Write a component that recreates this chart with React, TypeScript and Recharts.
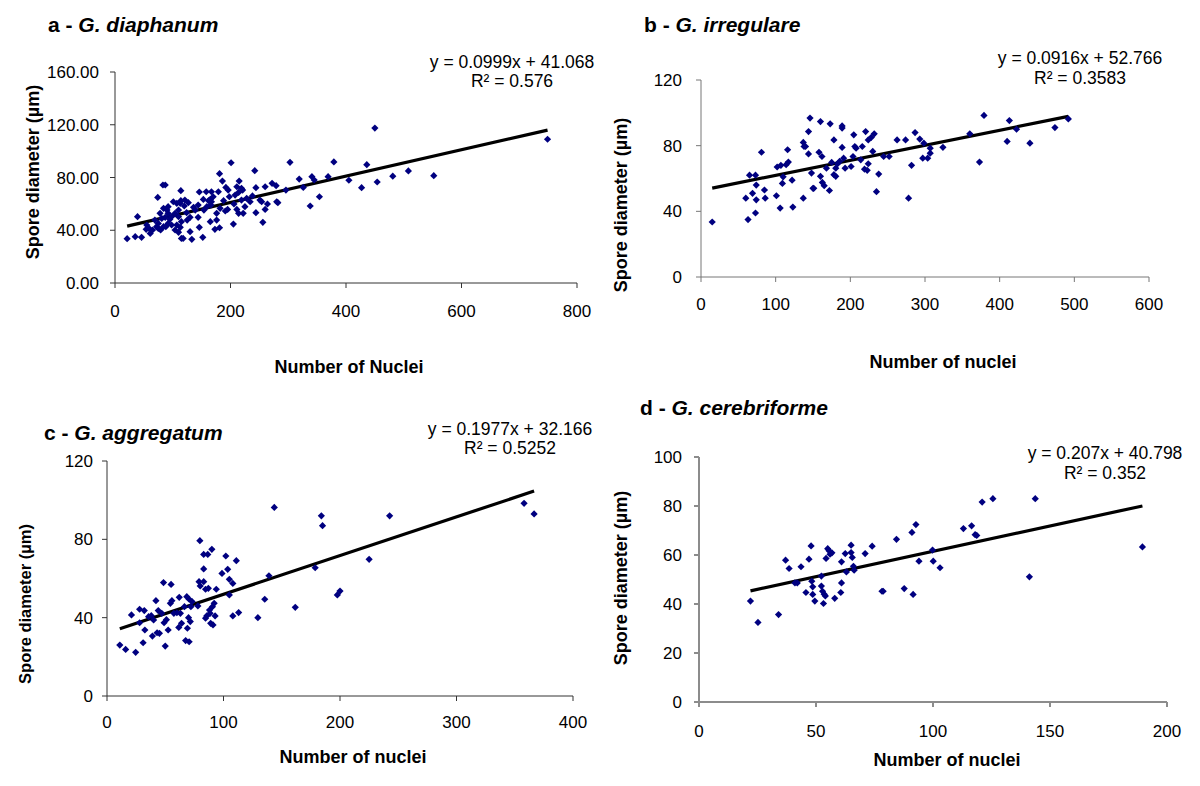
import React from "react";
import { ScatterChart, Scatter, XAxis, YAxis, ReferenceLine } from "recharts";

// a - G. diaphanum : [nuclei, spore diameter]
const diaphanumPoints: [number, number][] = [
  [21, 33.6], [35, 35.1], [39, 50.3], [46, 34.6], [54, 40.7], [61, 37.6], [74, 64.9],
  [83, 74.3], [87, 74.3], [114, 70], [146, 69], [158, 69.2], [167, 69.2], [179, 69.2],
  [181, 82.9], [186, 77.3], [201, 91.2], [192, 72.5], [196, 70.5], [215, 77.3], [214, 68.7],
  [221, 70.5], [242, 85.2], [244, 72.3], [260, 73], [272, 75.6], [279, 73.8], [296, 70.5],
  [303, 91.5], [319, 78.8], [326, 72.5], [341, 80.6], [345, 78.1], [354, 65.4], [338, 58.4],
  [369, 80.6], [115, 33.8], [118, 33.8], [133, 33.1], [152, 34.6], [130, 38.9], [110, 38.4],
  [104, 40.2], [146, 42.2], [165, 46.5], [173, 40.7], [181, 41.9], [205, 44.7], [256, 46],
  [244, 53.3], [214, 52.8], [222, 52.8], [225, 57.9], [191, 54.6], [176, 52.8], [144, 49.8],
  [125, 47.7], [260, 55.8], [264, 59.9], [280, 61.6], [282, 60.9], [234, 61.6], [251, 62.9],
  [254, 61.6], [153, 63.4], [162, 62.4], [167, 61.6], [159, 57.9], [188, 62.4], [144, 59.1],
  [136, 57.4], [127, 60.9], [120, 58.4], [113, 60.4], [110, 55.3], [104, 52.8], [98, 50.3],
  [92, 52.8], [90, 55.3], [87, 49.8], [81, 49], [75, 45.2], [75, 41.4], [79, 40.2],
  [84, 42.7], [92, 45.2], [98, 44], [107, 44], [113, 42.2], [115, 46.5], [124, 53.3],
  [130, 49.8], [139, 55.3], [65, 40.2], [59, 41.4], [55, 44], [69, 47.7], [78, 52.8],
  [84, 56.6], [92, 57.9], [101, 61.6], [107, 60.4], [114, 62.4], [121, 62.9], [110, 50.3],
  [95, 48.3], [88, 42.7], [72, 42.7], [182, 56.6], [195, 55.8], [206, 59.9], [211, 55.8],
  [176, 47.7], [166, 59.1], [154, 55.3], [198, 65.4], [208, 66.7], [219, 62.9], [228, 64.2],
  [238, 66], [211, 73], [219, 71.8], [170, 65.4], [165, 63.4], [379, 91.8], [405, 77.9],
  [427, 72.3], [436, 89.7], [450, 117.5], [454, 76.6], [481, 81], [508, 85], [552, 81.4],
  [749, 109],
];

// b - G. irregulare
const irregularePoints: [number, number][] = [
  [15, 33.5], [60, 48], [63, 35], [65, 62], [69, 51], [73, 62], [73, 39], [74, 56], [74, 47],
  [81, 76], [85, 53], [86, 48], [101, 49.5], [102, 67], [106, 42], [107, 68], [109, 57],
  [110, 61], [114, 68.4], [116, 77.5], [117, 70], [122, 59], [123, 42.6], [137, 48], [137, 82],
  [138, 79.5], [140, 79.5], [144, 88.6], [144, 75], [146, 96.8], [148, 63.3], [150, 54],
  [151, 54], [160, 94.7], [158, 76], [160, 61.3], [162, 73.4], [162.5, 57.6], [165, 55.6],
  [168, 66.3], [172, 52.7], [173, 93.3], [175, 69.8], [178, 83.5], [178, 62.3], [180.5, 61.3],
  [180.5, 66.3], [183, 69], [185.6, 70.4], [189, 92], [189, 90.7], [189, 78.9], [191, 72.4],
  [193, 66.3], [201, 67.3], [203.6, 73.4], [204.6, 86.6], [206, 79.5], [207.7, 78.5],
  [214, 71.4], [216, 79.5], [219, 65.7], [220.5, 88.6], [222.6, 65], [224, 83.5], [224, 69],
  [228, 85], [230, 76.5], [232, 87.2], [235, 52], [238, 62.7], [244.6, 73.4], [252, 73.4],
  [262.6, 83.5], [274, 83.5], [278, 48], [282, 68], [286.7, 88], [293, 84], [297, 72.4],
  [298.5, 81.5], [303.6, 72.4], [307, 78.5], [307, 75.4], [324, 79], [360, 87.2], [373, 70],
  [379, 98.4], [410, 82.6], [413, 95.3], [422.6, 90], [440.5, 81.5], [474, 91], [492, 96.3],
];

// c - G. aggregatum
const aggregatumPoints: [number, number][] = [
  [11, 26], [16, 23.8], [21, 41.4], [24.6, 22.3], [28, 44.3], [28, 37.4], [31, 27.2],
  [32, 43.6], [32.5, 33.7], [35.7, 40.5], [38, 41], [39, 30.6], [40, 38.8], [42, 48.7],
  [43, 32.3], [44, 43.6], [45, 32], [47, 42.2], [48.5, 57.9], [49, 37.4], [50, 25.5], [51, 39],
  [52.5, 33.7], [54.4, 47.3], [55, 57], [55.7, 48.7], [57.4, 42.2], [60, 42.5], [61.6, 35],
  [62, 50.4], [63, 42.2], [64, 37.1], [66.5, 45.6], [67.5, 28.3], [68.5, 50.7], [69, 34.6],
  [70, 40], [70.5, 49.4], [70.5, 27.7], [71.5, 38], [72, 45.6], [73, 48.2], [78, 46],
  [79.7, 79.3], [79, 58.4], [80, 56.2], [83, 58.4], [83, 64.9], [83, 72.3], [84.6, 39.7],
  [84.6, 54.5], [85.6, 40.9], [86.5, 72.3], [87, 55], [88, 43.9], [88.5, 42.2], [89, 37.1],
  [90, 74.9], [90.5, 45.6], [91, 36.3], [92, 47.3], [92.8, 40.9], [93.8, 54.5], [98.7, 62.6],
  [102, 71.5], [103.6, 64.7], [105, 59.6], [105, 51.6], [108, 57.5], [108, 40.9], [111, 69.1],
  [113, 42.6], [129.5, 40], [135.4, 49.4], [139, 61.4], [143.6, 96.3], [161.6, 45.3],
  [178.7, 65.5], [184, 92], [185, 87], [197.7, 51.6], [200, 53.6], [225, 69.8], [242.6, 92],
  [358, 98.4], [366.6, 93],
];

// d - G. cerebriforme
const cerebriformePoints: [number, number][] = [
  [22, 41.2], [25.2, 32.5], [34, 35.7], [37, 57.9], [38.5, 54.5], [41, 48.6], [42, 48.6],
  [43.6, 55.2], [45.7, 44.7], [47, 58.3], [47.9, 63.7], [48.2, 49.3], [48.6, 47], [48.6, 43.9],
  [49.5, 41.2], [52.3, 51.4], [52.3, 47.3], [52.8, 45.2], [53.2, 40.2], [53.5, 44], [54, 43.3],
  [54.3, 58.6], [55, 62.6], [55.6, 61.7], [56, 60.3], [56.8, 60.9], [58, 42.3], [60.6, 44.7],
  [60.9, 57.2], [60.9, 48.6], [62.5, 60.6], [63, 53.1], [65, 64], [65, 61], [65.5, 59],
  [66, 55.4], [66.3, 53.8], [71, 60.6], [74, 63.6], [78.2, 45.2], [78.7, 45.2], [84.4, 66.4],
  [87.7, 46.3], [91, 69.2], [91.5, 43.9], [92.7, 72.4], [94, 57.5], [99.8, 62], [100.1, 57.5],
  [103, 54.8], [113, 70.8], [116.5, 71.9], [118, 68.3], [118.7, 68], [121, 81.6], [125.6, 83],
  [141.2, 51.1], [143.7, 83], [189.5, 63.3],
];

const slopes = [0.0999, 0.0916, 0.1977, 0.207];
const intercepts = [41.068, 52.766, 32.166, 40.798];
const rSquared = ["0.576", "0.3583", "0.5252", "0.352"];
const species = ["G. diaphanum", "G. irregulare", "G. aggregatum", "G. cerebriforme"];
const letters = ["a", "b", "c", "d"];
const xTitles = ["Number of Nuclei", "Number of nuclei", "Number of nuclei", "Number of nuclei"];
const xTicks = [
  [0, 200, 400, 600, 800],
  [0, 100, 200, 300, 400, 500, 600],
  [0, 100, 200, 300, 400],
  [0, 50, 100, 150, 200],
];
const yTicks = [
  [0, 40, 80, 120, 160],
  [0, 40, 80, 120],
  [0, 40, 80, 120],
  [0, 20, 40, 60, 80, 100],
];
const allPoints = [diaphanumPoints, irregularePoints, aggregatumPoints, cerebriformePoints];

const FONT = "'Liberation Sans', Arial, sans-serif";

type Layout = {
  plot: { l: number; r: number; t: number; b: number };
  title: { x: number; y: number };
  eq: { cx: number; y: number; y2: number };
  xTitle: { cx: number; y: number };
  yTitle: { cx: number; cy: number; size: number };
  xMargin: number;
  yMargin: number;
  axisColor: string;
  axisWidth: number;
  decimals: number;
};

const layouts: Layout[] = [
  {
    plot: { l: 115, r: 577, t: 72, b: 283 },
    title: { x: 48, y: 25 },
    eq: { cx: 512, y: 62, y2: 81 },
    xTitle: { cx: 349, y: 367 },
    yTitle: { cx: 33, cy: 172, size: 18 },
    xMargin: 17, yMargin: 11, axisColor: "#333", axisWidth: 1, decimals: 2,
  },
  {
    plot: { l: 701, r: 1149, t: 80, b: 277 },
    title: { x: 644, y: 25 },
    eq: { cx: 1080, y: 58, y2: 78 },
    xTitle: { cx: 943, y: 362 },
    yTitle: { cx: 621, cy: 205, size: 18 },
    xMargin: 16, yMargin: 14, axisColor: "#777", axisWidth: 1, decimals: 0,
  },
  {
    plot: { l: 107, r: 573, t: 461, b: 696 },
    title: { x: 44, y: 433 },
    eq: { cx: 510, y: 429, y2: 448 },
    xTitle: { cx: 353, y: 757 },
    yTitle: { cx: 25, cy: 604, size: 16.5 },
    xMargin: 15, yMargin: 9, axisColor: "#333", axisWidth: 1, decimals: 0,
  },
  {
    plot: { l: 699, r: 1167, t: 457, b: 702 },
    title: { x: 640, y: 408 },
    eq: { cx: 1105, y: 453, y2: 473 },
    xTitle: { cx: 947, y: 760 },
    yTitle: { cx: 621, cy: 578, size: 18 },
    xMargin: 18, yMargin: 12, axisColor: "#8c8c8c", axisWidth: 2, decimals: 0,
  },
];

const Diamond = (props: any) => {
  const { cx, cy } = props;
  if (cx == null || cy == null) return null;
  const s = 3.6;
  return <path d={`M${cx},${cy - s}L${cx + s},${cy}L${cx},${cy + s}L${cx - s},${cy}Z`} fill="#000080" />;
};

const AXIS_W = 80;
const PAD_T = 10;
const PAD_R = 20;
const AXIS_H = 50;

function Panel({ index }: { index: number }) {
  const lay = layouts[index];
  const pts = allPoints[index].map(([x, y]) => ({ x, y }));
  const xs = allPoints[index].map((p) => p[0]);
  const x0 = Math.min(...xs);
  const x1 = Math.max(...xs);
  const m = slopes[index];
  const c = intercepts[index];
  const xt = xTicks[index];
  const yt = yTicks[index];
  const plotW = lay.plot.r - lay.plot.l;
  const plotH = lay.plot.b - lay.plot.t;
  const tickStyle = { fill: "#000", fontSize: 17, fontFamily: FONT };
  const axisLine = { stroke: lay.axisColor, strokeWidth: lay.axisWidth };

  return (
    <>
      <div style={{ position: "absolute", left: lay.plot.l - AXIS_W, top: lay.plot.t - PAD_T }}>
        <ScatterChart
          width={plotW + AXIS_W + PAD_R}
          height={plotH + PAD_T + AXIS_H}
          margin={{ top: PAD_T, right: PAD_R, bottom: 0, left: 0 }}
        >
          <XAxis
            type="number"
            dataKey="x"
            domain={[xt[0], xt[xt.length - 1]]}
            ticks={xt}
            height={AXIS_H}
            tickSize={5}
            tickMargin={lay.xMargin}
            axisLine={axisLine}
            tickLine={axisLine}
            tick={tickStyle}
            interval={0}
          />
          <YAxis
            type="number"
            dataKey="y"
            domain={[yt[0], yt[yt.length - 1]]}
            ticks={yt}
            width={AXIS_W}
            tickSize={5}
            tickMargin={lay.yMargin}
            axisLine={axisLine}
            tickLine={axisLine}
            tick={tickStyle}
            interval={0}
            tickFormatter={(v: number) => v.toFixed(lay.decimals)}
          />
          <Scatter data={pts} shape={Diamond} isAnimationActive={false} />
          <ReferenceLine
            segment={[{ x: x0, y: m * x0 + c }, { x: x1, y: m * x1 + c }]}
            stroke="#000"
            strokeWidth={3.2}
          />
        </ScatterChart>
      </div>
      <div
        style={{
          position: "absolute", left: lay.title.x, top: lay.title.y - 12, fontFamily: FONT,
          fontWeight: "bold", fontSize: 21, lineHeight: "24px", whiteSpace: "nowrap",
        }}
      >
        {letters[index]} - <i>{species[index]}</i>
      </div>
      <div
        style={{
          position: "absolute", left: lay.eq.cx - 120, width: 240, top: lay.eq.y - 10,
          textAlign: "center", fontFamily: FONT, fontSize: 17.5, lineHeight: "20px", whiteSpace: "nowrap",
        }}
      >
        y = {slopes[index]}x + {intercepts[index].toFixed(3)}
      </div>
      <div
        style={{
          position: "absolute", left: lay.eq.cx - 120, width: 240, top: lay.eq.y2 - 10,
          textAlign: "center", fontFamily: FONT, fontSize: 17.5, lineHeight: "20px", whiteSpace: "nowrap",
        }}
      >
        R² = {rSquared[index]}
      </div>
      <div
        style={{
          position: "absolute", left: lay.xTitle.cx - 150, width: 300, top: lay.xTitle.y - 11,
          textAlign: "center", fontFamily: FONT, fontWeight: "bold", fontSize: 18, lineHeight: "22px",
        }}
      >
        {xTitles[index]}
      </div>
      <div
        style={{
          position: "absolute", left: lay.yTitle.cx - 150, width: 300, top: lay.yTitle.cy - 11,
          textAlign: "center", fontFamily: FONT, fontWeight: "bold", fontSize: lay.yTitle.size,
          lineHeight: "22px", transform: "rotate(-90deg)", whiteSpace: "nowrap",
        }}
      >
        Spore diameter (µm)
      </div>
    </>
  );
}

export default function App() {
  return (
    <div style={{ position: "absolute", left: 0, top: 0, width: 1200, height: 786, background: "#fff", overflow: "hidden" }}>
      {[0, 1, 2, 3].map((i) => (
        <Panel key={i} index={i} />
      ))}
    </div>
  );
}
